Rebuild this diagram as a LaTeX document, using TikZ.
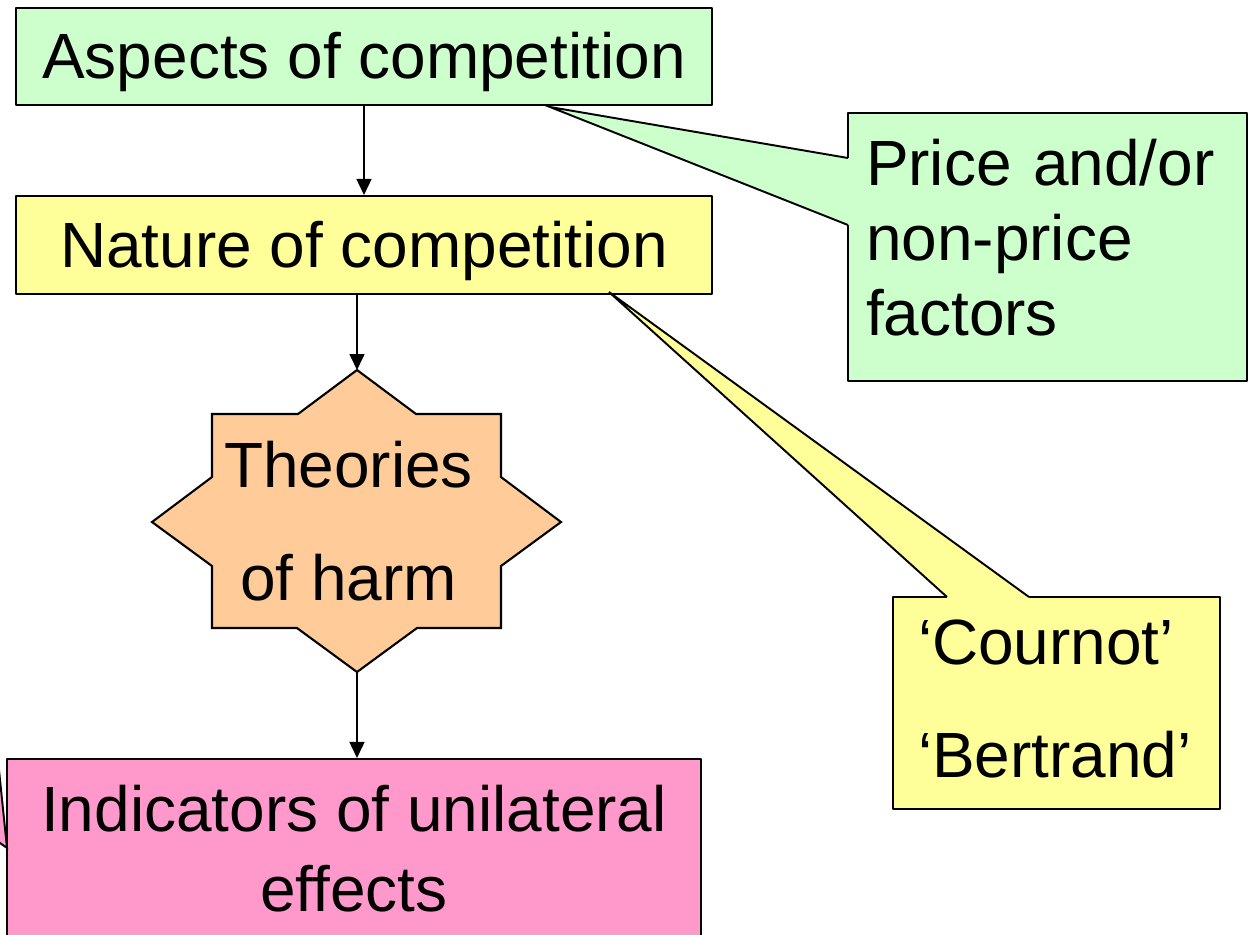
\documentclass[tikz,border=0pt]{standalone}
\usepackage{fontspec}
\setmainfont{Liberation Sans}
\usetikzlibrary{arrows.meta}
\setlength{\parindent}{0pt}
\hyphenpenalty=10000

\definecolor{aspectgreen}{HTML}{CCFFCC}
\definecolor{natureyellow}{HTML}{FFFF99}
\definecolor{harmorange}{HTML}{FFCC99}
\definecolor{indicpink}{HTML}{FF99CC}

\newcommand\slidefont[1]{\fontsize{36.4pt}{#1}\selectfont}

\begin{document}
\begin{tikzpicture}[x=0.02cm,y=-0.02cm,line join=round,
    slidebox/.style={draw,line width=1.2pt,inner sep=0pt,font=\slidefont{44pt}},
    flowarrow/.style={-{Triangle[length=0.32cm,width=0.3cm]},line width=0.9pt},
    tailline/.style={line width=1.1pt,line join=miter}]
  \useasboundingbox (0,0) rectangle (1248,934);
  \clip (0,0) rectangle (1248,934);

  % main column
  \node[slidebox,fill=aspectgreen,minimum width=13.92cm,minimum height=1.94cm,
    text height=32.8pt,text depth=7.3pt] (aspects) at (364,56.5) {Aspects of competition};
  \node[slidebox,fill=natureyellow,minimum width=13.92cm,minimum height=1.96cm,
    text height=32.8pt,text depth=7.3pt] (nature) at (364,245) {Nature of competition};

  \draw[fill=harmorange,line width=1.2pt,line join=miter]
    (357,370) -- (416,414) -- (501,414) -- (501,477) -- (561,522) -- (501,566)
    -- (501,628) -- (417,628) -- (357,672) -- (297,628) -- (212,628) -- (212,566)
    -- (152,522) -- (212,477) -- (212,414) -- (298,414) -- cycle;
  \coordinate (harmtop) at (357,370);
  \coordinate (harmbot) at (357,672);
  \node[inner sep=0pt,align=center,font=\slidefont{64.4pt}] (harm) at (348.5,521) {Theories\\of harm};

  \node[slidebox,fill=indicpink,minimum width=13.88cm,minimum height=3.58cm,
    align=center,font=\slidefont{45.5pt}] (indicators) at (354,848.5) {Indicators of unilateral\\effects};

  % callouts
  \node[slidebox,fill=aspectgreen,minimum width=7.98cm,minimum height=5.36cm,
    text width=7.26cm,inner xsep=0.36cm,align=left,font=\slidefont{42.7pt}] (price)
    at (1047.5,247) {Price and/or\\non-price\\factors\rule[-0.4cm]{0pt}{0.4cm}};
  \node[slidebox,fill=natureyellow,minimum width=6.54cm,minimum height=4.24cm,
    text width=5.54cm,inner xsep=0.5cm,align=left,font=\slidefont{64.4pt}] (models)
    at (1056.5,703) {‘Cournot’\\‘Bertrand’\rule[-0.18cm]{0pt}{0.18cm}};

  \coordinate (pricetip) at (550,107);
  \coordinate (pricetop) at (848,158);
  \coordinate (pricebot) at (848,225);
  \fill[aspectgreen] (pricetip) -- (pricetop) -- ([xshift=0.08cm]pricetop)
    -- ([xshift=0.08cm]pricebot) -- (pricebot) -- cycle;
  \draw[tailline] (pricetop) -- (pricetip) -- (pricebot);

  \coordinate (modeltip) at (609,292);
  \coordinate (modelleft) at (947,597);
  \coordinate (modelright) at (1029,597);
  \fill[natureyellow] (modeltip) -- (modelleft) -- ([yshift=-0.08cm]modelleft)
    -- ([yshift=-0.08cm]modelright) -- (modelright) -- cycle;
  \draw[tailline] (modelleft) -- (modeltip) -- (modelright);

  \coordinate (indictip) at (7,848);
  \fill[indicpink] (-5,731) -- (indictip) -- (-5,839.4) -- cycle;
  \draw[tailline] (-5,731) -- (indictip) -- (-5,839.4);

  % arrows
  \draw[flowarrow] (aspects) -- (nature);
  \draw[flowarrow] (nature.south -| harmtop) -- (harmtop);
  \draw[flowarrow] (harmbot) -- (harmbot |- indicators.north);
\end{tikzpicture}
\end{document}
